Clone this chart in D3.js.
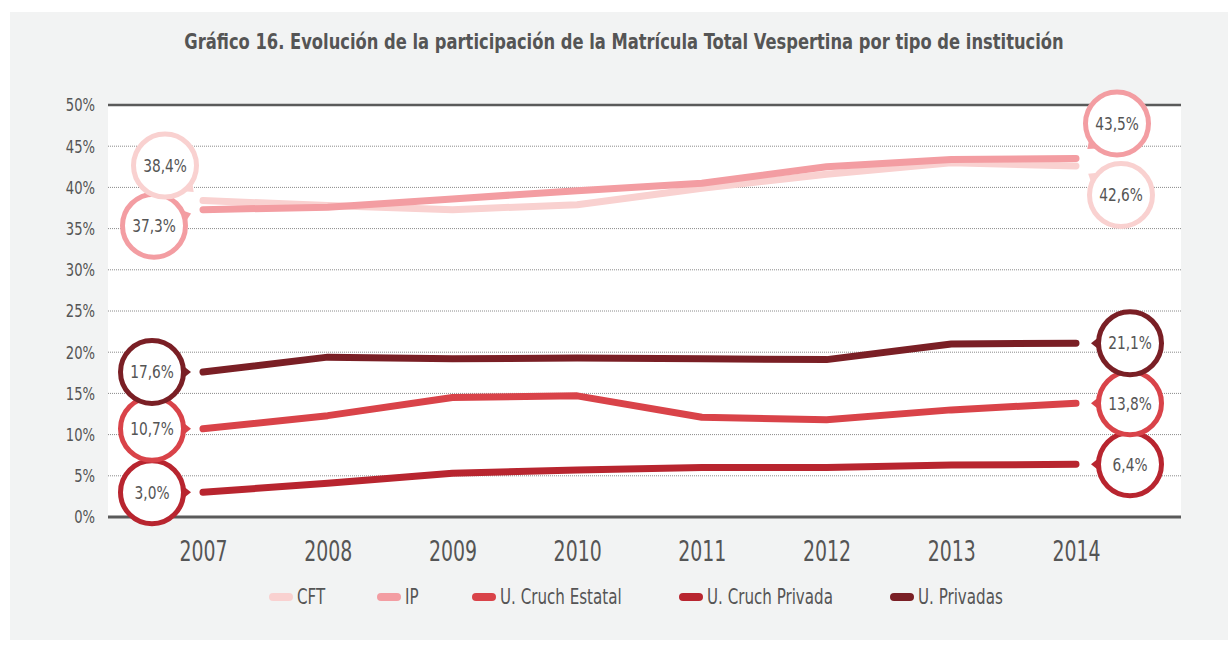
<!DOCTYPE html>
<html><head><meta charset="utf-8">
<script src="https://cdn.jsdelivr.net/npm/d3@7"></script>
<style>
html,body{margin:0;padding:0;background:#fff;}
text{font-family:"Liberation Sans Narrow","DejaVu Sans Condensed","Roboto Condensed","Open Sans",sans-serif;font-stretch:condensed;}
</style></head>
<body><svg id="c" width="1228" height="646"></svg>
<script>
const years = ["2007","2008","2009","2010","2011","2012","2013","2014"];
const seriesNames = ["CFT","IP","U. Cruch Estatal","U. Cruch Privada","U. Privadas"];
const cft = [38.4, 37.8, 37.3, 37.9, 39.9, 41.6, 43.0, 42.6];
const ip = [37.3, 37.6, 38.6, 39.6, 40.5, 42.5, 43.4, 43.5];
const cruchEstatal = [10.7, 12.3, 14.5, 14.7, 12.1, 11.8, 13.0, 13.8];
const cruchPrivada = [3.0, 4.1, 5.3, 5.7, 6.0, 6.0, 6.3, 6.4];
const privadas = [17.6, 19.4, 19.2, 19.3, 19.2, 19.1, 21.0, 21.1];
const yTicks = [0, 5, 10, 15, 20, 25, 30, 35, 40, 45, 50];
const title = "Gráfico 16. Evolución de la participación de la Matrícula Total Vespertina por tipo de institución";

const seriesValues = [cft, ip, cruchEstatal, cruchPrivada, privadas];
const colors = ["#f9d1d0", "#f39da2", "#d94349", "#b8252f", "#7a1f25"];

const svg = d3.select("#c");
const fmt = v => d3.format(".1f")(v).replace(".", ",") + "%";

// panels
svg.append("rect").attr("x", 10).attr("y", 12).attr("width", 1218).attr("height", 628).attr("fill", "#f2f3f3");
const pLeft = 108, pRight = 1181, pTop = 105, pBottom = 517;
svg.append("rect").attr("x", pLeft).attr("y", pTop).attr("width", pRight - pLeft).attr("height", pBottom - pTop).attr("fill", "#fff");

const x = d3.scalePoint().domain(years).range([203, 1076]);
const y = d3.scaleLinear().domain([0, 50]).range([pBottom, pTop]);

// title
const tt = svg.append("text").attr("text-anchor", "middle")
  .attr("font-size", 22).attr("font-weight", "bold").attr("fill", "#555").text(title);
const tLen = tt.node().getComputedTextLength();
const tScale = Math.min(1, 880 / tLen);
tt.attr("transform", `translate(624,49) scale(${tScale},1)`);

// grid
svg.append("g").selectAll("line").data(yTicks.filter(t => t > 0 && t < 50)).join("line")
  .attr("x1", pLeft).attr("x2", pRight).attr("y1", d => y(d)).attr("y2", d => y(d))
  .attr("stroke", "#8a8a8a").attr("stroke-width", 1).attr("stroke-dasharray", "1,1");
svg.append("line").attr("x1", pLeft).attr("x2", pRight).attr("y1", y(50)).attr("y2", y(50)).attr("stroke", "#5a5a5a").attr("stroke-width", 2.5);
svg.append("line").attr("x1", pLeft).attr("x2", pRight).attr("y1", y(0)).attr("y2", y(0)).attr("stroke", "#5a5a5a").attr("stroke-width", 3);

// y axis
const yAxis = d3.axisLeft(y).tickValues(yTicks).tickSize(0).tickPadding(0).tickFormat(d => d + "%");
const ya = svg.append("g").attr("transform", `translate(95,0)`).call(yAxis);
ya.select(".domain").remove();
ya.selectAll("text").attr("font-size", 17).attr("fill", "#555").attr("dy", "0.35em").attr("transform", "scale(0.86,1)");

// x axis
const xAxis = d3.axisBottom(x).tickSize(0).tickPadding(0);
const xa = svg.append("g").attr("transform", `translate(0,561)`).call(xAxis);
xa.select(".domain").remove();
xa.selectAll("text").attr("font-size", 28).attr("fill", "#555").attr("dy", 0).attr("transform", "scale(0.75,1)");

// lines
const line = d3.line().x((d, i) => x(years[i])).y(d => y(d));
svg.append("g").selectAll("path").data(seriesValues).join("path")
  .attr("d", d => line(d)).attr("fill", "none").attr("stroke", (d, i) => colors[i])
  .attr("stroke-width", 7).attr("stroke-linecap", "round").attr("stroke-linejoin", "round");

// bubbles
const leftOff = [[-38, -35], [-49, 16], [-51, 0], [-51, 0], [-51, 0]];
const rightOff = [[45, 29], [41, -35], [54, 0], [54, 0], [54, 0]];
const leftOrder = [1, 0, 3, 2, 4];
const rightOrder = [0, 1, 3, 2, 4];
const R = 31.5;
function bubble(si, idx, off) {
  const px = x(years[idx]), py = y(seriesValues[si][idx]);
  const cx = px + off[0], cy = py + off[1];
  const a = Math.atan2(py - cy, px - cx);
  const g = svg.append("g");
  const ca = Math.cos(a), sa = Math.sin(a);
  const bx = cx + ca * R, by = cy + sa * R;
  const tx = cx + ca * (R + 7.5), ty = cy + sa * (R + 7.5);
  const hw = 6;
  g.append("path").attr("d", `M${bx - sa * hw},${by + ca * hw}L${tx},${ty}L${bx + sa * hw},${by - ca * hw}Z`)
    .attr("fill", colors[si]);
  g.append("circle").attr("cx", cx).attr("cy", cy).attr("r", R).attr("fill", "#fff")
    .attr("stroke", colors[si]).attr("stroke-width", 5);
  g.append("text").attr("transform", `translate(${cx},${cy}) scale(0.85,1)`).attr("dy", "0.35em").attr("text-anchor", "middle")
    .attr("font-size", 18).attr("fill", "#555").text(fmt(seriesValues[si][idx]));
}
leftOrder.forEach(si => bubble(si, 0, leftOff[si]));
rightOrder.forEach(si => bubble(si, years.length - 1, rightOff[si]));

// legend
const legX = [269, 377, 472, 679, 890];
const lg = svg.append("g");
seriesNames.forEach((n, i) => {
  lg.append("line").attr("x1", legX[i] + 4).attr("x2", legX[i] + 20).attr("y1", 597).attr("y2", 597)
    .attr("stroke", colors[i]).attr("stroke-width", 8).attr("stroke-linecap", "round");
  lg.append("text").attr("transform", `translate(${legX[i] + 28},597) scale(0.8,1)`).attr("dy", "0.35em")
    .attr("font-size", 21).attr("fill", "#555").text(n);
});
</script></body></html>
